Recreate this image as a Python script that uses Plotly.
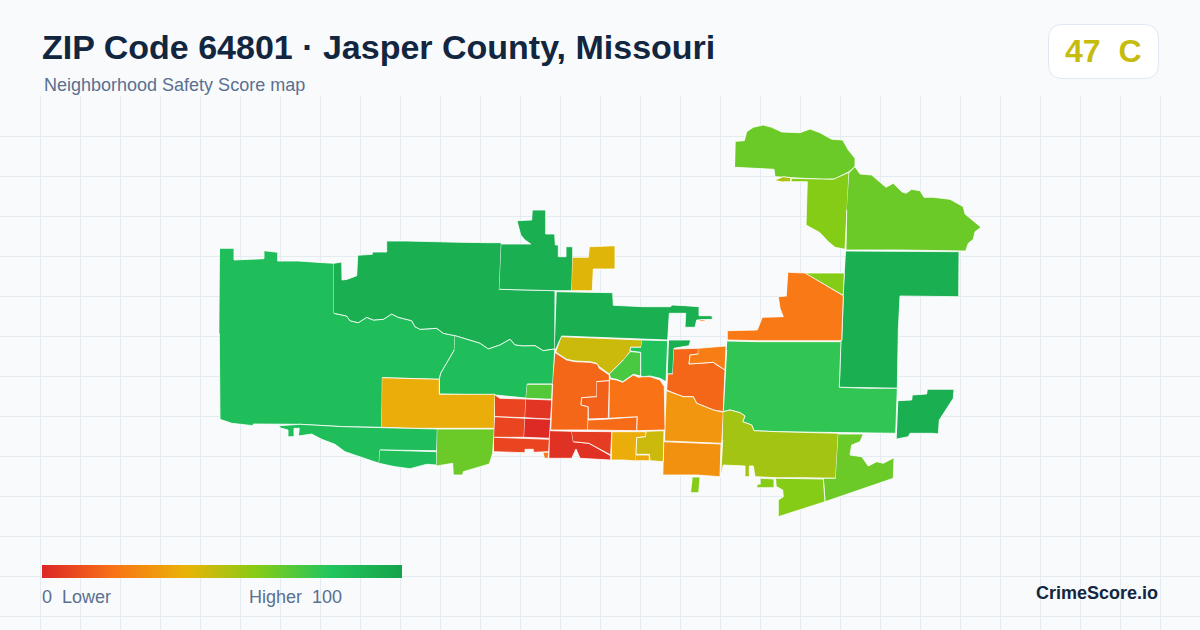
import plotly.graph_objects as go
from plotly.colors import sample_colorscale

score_colors = [[0, "#dc2626"], [0.2, "#f97316"], [0.4, "#eab308"],
                [0.6, "#84cc16"], [0.8, "#22c55e"], [1, "#16a34a"]]

title_text = "ZIP Code 64801 · Jasper County, Missouri"
subtitle_text = "Neighborhood Safety Score map"
zip_score = 47
zip_grade = "C"

# block group outlines
west_big = [(220,248.3),(234,248.3),(234,260),(249.3,259.3),(264,258.7),(264,250.7),(277.7,252.3),(277.7,261),(298.3,261),(323.3,262.7),(334,263.3),(334,313.3),(346.7,316),(350,320.7),(358.3,322.7),(366.7,317.3),(373.3,320),(383.3,319.3),(391.7,314),(398.3,317.3),(411.7,320.7),(415,326.7),(420,329.3),(436.7,328.3),(443.3,333.3),(455,335.7),(454.3,350),(446.7,363.3),(440.7,373.3),(439.3,379.3),(382.3,377.7),(381.7,427.3),(343.3,426.7),(300,424.3),(253.3,424),(253.3,425.7),(231.7,423.3),(220,419.3),(219.3,333.3)]
north_band = [(334,263.3),(341.7,262),(342,280),(347.3,279.3),(356.7,275.7),(357.7,255.3),(372.3,254.3),(372.3,252),(386.7,252),(386.7,241),(406.7,241),(426.7,241.7),(460,242.3),(488.3,242.7),(501.3,242.7),(499.3,289.3),(555,290.7),(554.7,349),(543.3,350.7),(535,345.7),(523.3,346),(515,345),(510,339.3),(500,345),(488.3,349),(480,343.3),(470,340),(455,335.7),(443.3,333.3),(436.7,328.3),(420,329.3),(415,326.7),(411.7,320.7),(398.3,317.3),(391.7,314),(383.3,319.3),(373.3,320),(366.7,317.3),(358.3,322.7),(350,320.7),(346.7,316),(334,313.3)]
north_block = [(501.3,244),(530.7,244),(525,240),(520.7,235),(517,220.7),(531.7,220),(532.3,210),(545.7,210),(545.7,234),(554.7,234),(555.3,245),(558.3,245),(558.3,256.7),(566,256.7),(566,246.7),(572.7,246.7),(572.7,257.3),(571.7,290.7),(555,290.7),(499.3,289.3)]
north_yellow = [(572.7,257.3),(588.3,257.3),(589.3,246.7),(615,245.7),(615,269),(593.3,269),(592.3,290.7),(571.7,290.7)]
center_band = [(556.7,291.7),(612.7,292.7),(613.3,305.3),(643.3,306.7),(670.7,306.7),(671.7,305),(685,305.7),(699,306.7),(699,315.7),(711.7,315.7),(712.7,319.3),(696.7,320),(695,327.3),(685,327.3),(685.7,313.3),(669.3,313.3),(667.7,340),(641.7,339),(561.7,336),(555.3,350),(554.7,349)]
sliver_orange = [(700,320),(705,320),(705,321.5),(700,321.5)]
mid_green = [(455,335.7),(470,340),(480,343.3),(488.3,349),(500,345),(510,339.3),(515,345),(523.3,346),(535,345.7),(543.3,350.7),(554.7,349),(552.7,384),(527.3,384),(526,398),(495,395),(439.3,394),(439.3,379.3),(440.7,373.3),(446.7,363.3),(454.3,350)]
small_green = [(527.3,384.3),(552.3,384.3),(551.7,399.3),(526,398.3)]
west_yellow = [(382.3,377.7),(439.3,379.3),(439.3,394.3),(495,394.3),(494.3,428.3),(410,428.3),(381.7,427.3)]
south_green = [(279,425.7),(300,424.3),(343.3,426.7),(410,428.3),(437.3,429),(436.7,450.7),(408.3,450.7),(380,450),(379,463.3),(363.3,458.3),(345,451.7),(335,444.3),(321.7,439.3),(311.7,434),(298.3,436),(299.3,428.3),(294,428.3),(294,436.7),(288,436.7),(288,430),(281.7,428.3)]
south_small = [(380,450),(408.3,450.7),(436.7,451.7),(436.7,465),(426.7,464.3),(410,468.7),(395,466.7),(379,463.3)]
south_lime = [(437.3,429),(494.3,429),(492.7,453.3),(489.3,464),(463.3,471.7),(462.7,475),(453.3,475),(452.7,463.3),(436.7,466)]
red_1 = [(495,395),(500,398.3),(526,399),(525,417.7),(495,416.7)]
red_2 = [(526,399),(551.7,400),(550.7,419.3),(525,417.7)]
red_3 = [(495,416.7),(525,418.3),(524,437.3),(494,437.3)]
red_4 = [(525,418.3),(550.7,419.3),(549.3,438.3),(524,437.3)]
red_5 = [(494,437.3),(524,438.3),(549.3,439.3),(548.7,451.7),(533.3,452.3),(533.3,449.3),(525,449.3),(525,452.7),(494,451.7)]
red_tip = [(543.3,452.3),(548.7,452.3),(548,458.3),(545,458.3)]
orange_1 = [(555.3,352.7),(566.7,360),(575,361.7),(590,362.3),(597.3,364),(599.3,368.3),(609.3,375),(609.3,380.7),(596.7,381.7),(596.7,396.7),(581.7,397.7),(581,405),(588.3,406.7),(587.7,430),(550.7,430),(551.7,400),(552.7,384)]
orange_2 = [(596.7,381.7),(609.3,380.7),(608.3,418.3),(588.3,419),(588.3,406.7),(581,405),(581.7,397.7),(596.7,396.7)]
orange_3 = [(588.3,420),(609,419),(637.3,416.7),(636.7,430.7),(587.7,430)]
orange_4 = [(610,379),(616.7,380),(622.7,382.3),(628.3,378.3),(633.3,375),(638.3,377.3),(643.3,376.7),(650,376.7),(660,380),(664.3,386.7),(665,430),(636.7,430.7),(637.3,416.7),(609.3,418.3)]
olive_top = [(561.7,336.7),(642.3,340),(641,347.3),(630.7,347.3),(630,351.7),(623.3,360),(609.3,374),(599.3,366.7),(596.7,363.3),(590,361.7),(575,361),(566.7,359.3),(556,352.3)]
light_green = [(630.7,351.7),(640.7,352.3),(640.7,376),(633.3,374.3),(622.7,381.7),(616.7,379.3),(610.7,378.3),(609.3,374),(623.3,360)]
center_green = [(642.3,340),(667.7,340.7),(666,381.7),(660,378.3),(650,376),(643.3,376.7),(640.7,376),(640.7,352.3),(630,351),(630.7,347.3),(641,347.3)]
dark_strip = [(669,340),(690.7,340),(689,345.7),(674,348.3),(672.7,374),(667.7,374)]
orange_5 = [(674,349),(698.3,348.3),(698.3,354),(690,355),(689,364),(713.3,362.3),(716.7,365),(725,370),(723.3,411.7),(713.3,410),(706.7,407.3),(696.7,403.3),(693.3,396.7),(683.3,396.7),(676.7,394.3),(666.7,390),(667.7,374),(672.7,374)]
orange_6 = [(698.3,348.3),(726,346),(725,370),(716.7,365),(713.3,362.3),(689,364),(690,355),(698.3,354)]
amber_1 = [(666.7,390.7),(676.7,394.3),(683.3,396.7),(693.3,396.7),(696.7,403.3),(706.7,407.3),(713.3,410),(723.3,412.3),(721.7,443.3),(696.7,442.3),(665,441)]
amber_2 = [(664,441.7),(696.7,443.3),(721,444),(720,476.7),(696.7,475),(663.3,475)]
yellow_low = [(612.3,431.7),(646,431.7),(645.7,436.7),(636.7,437.7),(636,461),(624,460),(611.7,460)]
olive_small = [(646.7,431.3),(664,430.7),(663.3,461.7),(650,460.7),(649.3,454.3),(636,454.3),(636.7,437.7),(645.7,436.7)]
yellow_mini = [(636,455),(649.3,455),(649.3,460.7),(636,460.7)]
red_low_left = [(550,430.7),(571.7,431.3),(573.3,441.7),(589,443.3),(610.7,455.7),(610.7,460),(580,458.3),(576,449),(571.7,458.3),(549.3,458.3)]
red_low_right = [(571.7,431.3),(611.7,431.7),(610.7,455),(589,443.3),(573.3,441.7)]
north_east_top = [(735.7,141.3),(744.3,140.7),(746.7,131.7),(753.3,127.3),(763.3,125),(771.7,127.3),(781.7,132),(800,132.7),(810,129),(820,132.7),(831.7,139.3),(842.7,140),(848.3,150),(855,158.3),(855,166.7),(849,171.7),(835,179),(823.3,179.3),(791.7,177.7),(775,176.7),(774,169.3),(753.3,168.3),(735,167.3)]
north_east_sliver = [(775,180),(783.3,176.7),(790.7,177.7),(790.7,181.7),(783.3,181.7)]
north_east_mid = [(791.7,178.3),(833.3,179.3),(849,172.3),(846.7,210),(845,249.3),(835,247.3),(828.3,241.7),(820,232.7),(806,225),(807.3,181.7),(791.7,181.7)]
north_east_right = [(849.3,172.3),(855,166.7),(860,174),(871.7,175),(886,187.3),(893.3,183.3),(901.7,191.7),(906,193.3),(911.7,189.3),(920,190.7),(924,197.3),(933.3,197.3),(950,199.3),(963.3,206.7),(965,214),(981,227.3),(975,231.7),(973.3,239.3),(968.3,243.3),(965.7,251),(901.7,250),(846,250),(846.7,210)]
east_l = [(846,251),(901.7,251),(959,251.7),(958.7,296.7),(926.7,296.7),(900,296),(898.3,330),(897.3,388.3),(868.3,387.7),(839.3,387.3),(840.7,341),(841.7,340),(843.3,296.7)]
east_triangle = [(805,273),(844.3,273),(843.3,295)]
east_orange = [(788.3,272.3),(805,273),(843.3,295.7),(841.7,340.7),(758.3,340.7),(727.3,340),(727.3,330.7),(743.3,330),(757.3,330),(762.3,317.3),(783.3,316.7),(780,308.3),(778.3,296.7),(786.7,296)]
east_green = [(727.3,341),(757.3,341.7),(841,341.7),(839.3,387.3),(868.3,388.3),(897.3,388.3),(895.7,433.3),(838.3,432.7),(776.7,431.7),(754,430.7),(751.7,425),(742.7,421.7),(745,416),(740,412.7),(730,410),(723.3,411.7),(725,383.3),(726.7,350)]
olive_lime = [(723.3,411.7),(730,410),(740,412.7),(745,416),(742.7,421.7),(751.7,425),(754,430.7),(776.7,431.7),(838.3,433.3),(836.7,455),(835.7,478.3),(805,477.7),(776.7,477.7),(755,476.7),(753.3,466),(749.3,466),(749.3,476.7),(745,476.7),(745,466),(723.3,465),(720.7,476.7),(722.7,440)]
south_east_1 = [(838.3,434),(863.3,434),(860,441.7),(851.7,445),(850,455),(861.7,456.7),(868.3,466),(876.7,461.7),(883.3,463.3),(894,457.7),(893.3,478.3),(825,501.7),(823.3,478.3),(835.7,478.3)]
south_east_2 = [(776,478.3),(823.3,479),(825,501.7),(778.3,516.7),(778.3,500),(783.3,496.7),(782.7,490),(776.7,486.7)]
bit_1 = [(760.7,478.3),(774,479),(774,487.7),(756.7,487.7),(757.3,484.3),(760.7,484)]
bit_2 = [(692.7,477),(700,477),(698.7,492.7),(691,492.7)]
east_block = [(898.3,400.7),(911.7,400),(912.3,395),(926.7,394),(927.3,389.3),(954,389.3),(953.3,398.3),(943.3,413.3),(939.3,420),(938.3,434),(933.3,433.3),(910,433.3),(908.3,436.7),(896.7,439)]

regions = [west_big, north_band, north_block, north_yellow, center_band, sliver_orange,
           mid_green, small_green, west_yellow, south_green, south_small, south_lime,
           red_1, red_2, red_3, red_4, red_5, red_tip, orange_1, orange_2, orange_3, orange_4,
           olive_top, light_green, center_green, dark_strip, orange_5, orange_6, amber_1, amber_2,
           yellow_low, olive_small, yellow_mini, red_low_left, red_low_right,
           north_east_top, north_east_sliver, north_east_mid, north_east_right, east_l,
           east_triangle, east_orange, east_green, olive_lime, south_east_1, south_east_2,
           bit_1, bit_2, east_block]
scores = [84, 93, 93, 42, 93, 22,
          84, 70, 38, 84, 84, 65,
          8, 4, 8, 1, 8, 22, 17, 15, 18, 20,
          46, 72, 82, 93, 17, 23, 31, 29,
          38, 46, 37, 3, 6,
          65, 52, 60, 65, 93,
          60, 22, 77, 54, 65, 60,
          60, 60, 93]


def color_for(score):
    return sample_colorscale(score_colors, score / 100)[0]


fig = go.Figure()

for region, score in zip(regions, scores):
    xs = [p[0] for p in region]
    ys = [p[1] for p in region]
    fig.add_trace(go.Scatter(x=xs, y=ys, mode="lines", fill="toself", fillcolor=color_for(score),
                             line=dict(color="#ffffff", width=0.8), hoverinfo="skip", showlegend=False))

# only here for the colorbar
fig.add_trace(go.Scatter(x=[-50, -50], y=[-50, -50], mode="markers", showlegend=False, hoverinfo="skip",
                         marker=dict(color=[0, 100], cmin=0, cmax=100, colorscale=score_colors, showscale=True,
                                     colorbar=dict(orientation="h", lenmode="pixels", len=360,
                                                   thicknessmode="pixels", thickness=13,
                                                   x=42 / 1200, xanchor="left", y=52 / 630, yanchor="bottom",
                                                   xpad=0, ypad=0, outlinewidth=0, ticks="",
                                                   showticklabels=False))))


def add_text(text, x, y, size, color, anchor="left", bold=False):
    fig.add_annotation(text=f"<b>{text}</b>" if bold else text, x=x / 1200, y=1 - y / 630,
                       xref="paper", yref="paper", xanchor=anchor, yanchor="middle", showarrow=False,
                       borderpad=0, borderwidth=0,
                       font=dict(family="Liberation Sans", size=size, color=color))


add_text(title_text, 42, 47, 34, "#12263f", bold=True)
add_text(subtitle_text, 44, 85, 18, "#5a7090")
add_text(f"{zip_score}\u00a0\u00a0{zip_grade}", 1103, 51, 32, color_for(zip_score), anchor="center", bold=True)
add_text("0\u00a0\u00a0Lower", 42, 597, 18, "#5a7090")
add_text("Higher\u00a0\u00a0100", 249, 597, 18, "#5a7090")
add_text("CrimeScore.io", 1158, 593, 18, "#12263f", anchor="right", bold=True)

fig.add_shape(type="path", xref="paper", yref="paper", fillcolor="#ffffff",
              line=dict(color="#e2e8f0", width=1),
              path=" ".join([f"M {1062/1200} {1-24.5/630}", f"L {1144/1200} {1-24.5/630}",
                             f"Q {1158.5/1200} {1-24.5/630} {1158.5/1200} {1-39/630}",
                             f"L {1158.5/1200} {1-64/630}",
                             f"Q {1158.5/1200} {1-78.5/630} {1144/1200} {1-78.5/630}",
                             f"L {1062/1200} {1-78.5/630}",
                             f"Q {1048.5/1200} {1-78.5/630} {1048.5/1200} {1-64/630}",
                             f"L {1048.5/1200} {1-39/630}",
                             f"Q {1048.5/1200} {1-24.5/630} {1062/1200} {1-24.5/630} Z"]))

fig.update_xaxes(range=[0, 1200], tick0=0.5, dtick=40, showgrid=True, gridcolor="#e5ecf1", gridwidth=1,
                 zeroline=False, showticklabels=False, ticks="", fixedrange=True)
fig.update_yaxes(range=[630, 96], domain=[0, 534 / 630], tick0=96.5, dtick=40, showgrid=True,
                 gridcolor="#e5ecf1", gridwidth=1, zeroline=False, showticklabels=False, ticks="", fixedrange=True)
fig.update_layout(width=1200, height=630, margin=dict(l=0, r=0, t=0, b=0, pad=0, autoexpand=False),
                  paper_bgcolor="#f8fafc", plot_bgcolor="#f8fafc")

# page default margin would shift everything by 8px
fig.write_html("out.html", config=dict(displayModeBar=False),
               post_script="document.body.style.margin='0';document.body.style.overflow='hidden';")
